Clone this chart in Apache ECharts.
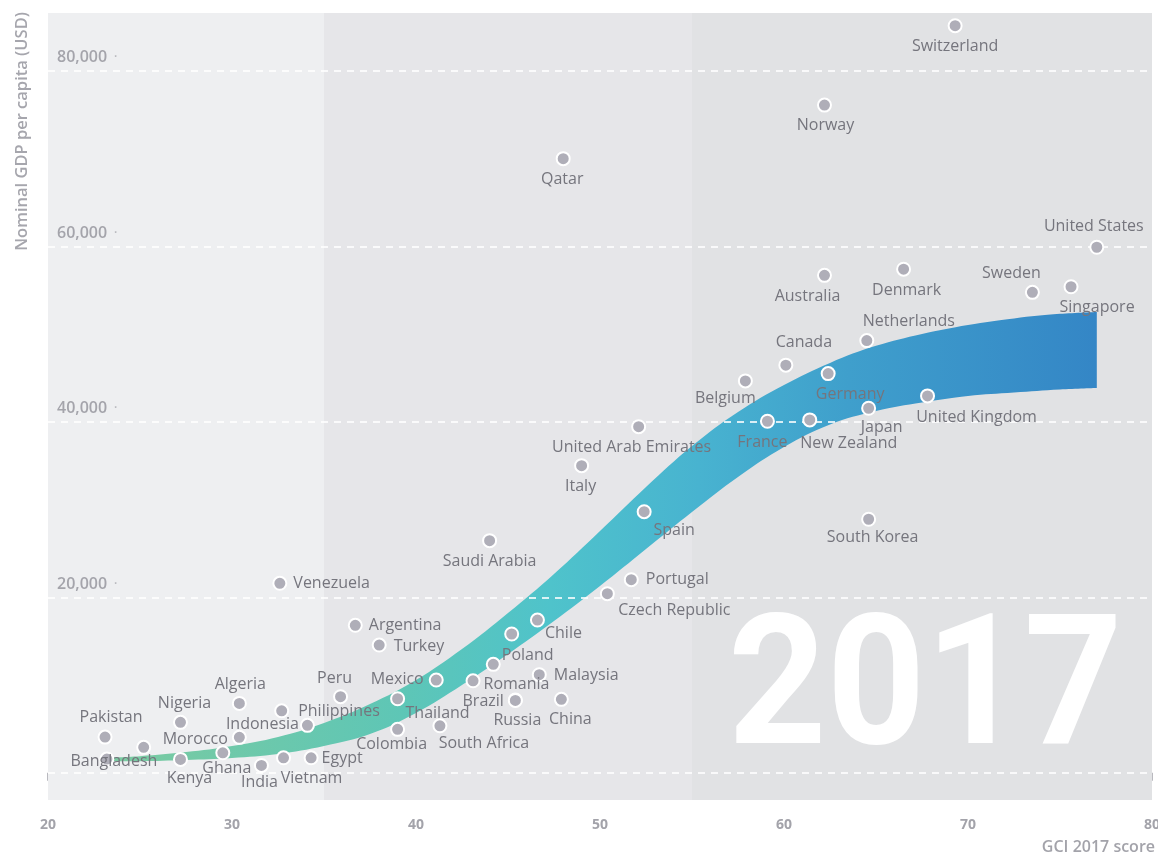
<!DOCTYPE html>
<html>
<head>
<meta charset="utf-8">
<title>GCI 2017 score vs nominal GDP per capita</title>
<script src="https://cdn.jsdelivr.net/npm/echarts@6/dist/echarts.min.js"></script>
<style>
    html, body { margin: 0; padding: 0; background: #fff; }
    #chart { width: 1158px; height: 857px; }
</style>
</head>
<body>
<div id="chart"></div>
<script>
// countries ('' = dot without a label)
const countries = ['Switzerland', 'Norway', 'Qatar', 'United States', 'Australia', 'Denmark', 'Sweden', 'Singapore', 'Netherlands', 'Canada',
    'Germany', 'Belgium', 'United Kingdom', 'Japan', 'France', 'New Zealand', 'United Arab Emirates', 'Italy', 'Spain', 'South Korea',
    'Saudi Arabia', 'Portugal', 'Czech Republic', 'Venezuela', 'Chile', 'Poland', 'Argentina', 'Turkey', '', 'Romania',
    'Mexico', 'Malaysia', 'Brazil', 'Russia', 'China', 'Thailand', 'Colombia', 'South Africa', 'Peru', 'Philippines',
    'Indonesia', 'Algeria', 'Morocco', 'Nigeria', 'Pakistan', '', 'Bangladesh', 'Kenya', 'Ghana', 'India',
    'Vietnam', 'Egypt'];
const gciScores = [69.3, 62.2, 48.0, 77.0, 62.2, 66.5, 73.5, 75.6, 64.5, 60.1,
    62.4, 57.9, 67.8, 64.6, 59.1, 61.4, 52.1, 49.0, 52.4, 64.6,
    44.0, 51.7, 50.4, 32.6, 46.6, 45.2, 36.7, 38.0, 44.2, 43.1,
    41.1, 46.7, 45.4, 45.4, 47.9, 39.0, 39.0, 41.3, 35.9, 32.7,
    34.1, 30.4, 30.4, 27.2, 23.1, 25.2, 23.2, 27.2, 29.5, 31.6,
    32.8, 34.3];
const gdpPerCapita = [85150, 76100, 70000, 59900, 56700, 57400, 54760, 55400, 49260, 46460,
    45500, 44670, 42960, 41550, 40070, 40220, 39450, 35010, 29760, 28900,
    26460, 22010, 20410, 21600, 17410, 15820, 16810, 14560, 12360, 10490,
    10570, 11180, 8300, 8250, 8370, 8440, 4950, 5360, 8670, 7070,
    5410, 7910, 4040, 5750, 4070, 2900, 1560, 1530, 2280, 840,
    1710, 1710];

// trend ribbon, read as its upper and lower edge
const bandScores = [23, 25, 27.5, 30, 32.5, 35, 37.5, 40, 42.5, 45, 47.5, 50, 52.5, 55, 57.5, 60, 62.5, 65, 67.5, 70, 72.5, 75, 77];
const bandUpper = [1730, 1900, 2360, 3050, 4070, 5670, 7830, 10570, 14100, 18210, 22660, 27560, 32580, 37250, 41130, 44210, 46720, 48660, 50020, 51050, 51790, 52310, 52530];
const bandLower = [1330, 1330, 1450, 1680, 2130, 3050, 4410, 6810, 10000, 13540, 17300, 21290, 25510, 29730, 33720, 37140, 39710, 41250, 42210, 42960, 43350, 43700, 43870];

// gridlines and background zones
const gridValues = [0, 20000, 40000, 60000, 80000];
const zoneEdges = [20, 35, 55, 80];
const zoneColors = ['#eeeff1', '#e6e6e9', '#e1e2e4'];

// label placement: [position, dx, dy]
const labelSpots = {
    'Switzerland': ['bottom', 0, 0], 'Norway': ['bottom', 1, 0], 'Qatar': ['bottom', -1, 0],
    'United States': ['top', -3, 0], 'Australia': ['bottom', -17, 1], 'Denmark': ['bottom', 3, 1],
    'Sweden': ['top', -21, 2], 'Singapore': ['bottom', 26, 0], 'Netherlands': ['top', 42, 1],
    'Canada': ['top', 18, -2], 'Germany': ['bottom', 22, 0], 'Belgium': ['bottom', -20, -3],
    'United Kingdom': ['bottom', 49, 1], 'Japan': ['bottom', 13, -1], 'France': ['bottom', -5, 1],
    'New Zealand': ['bottom', 39, 3], 'United Arab Emirates': ['bottom', -7, 0], 'Italy': ['bottom', -1, 0],
    'Spain': ['bottom', 30, -2], 'South Korea': ['bottom', 4, -2], 'Saudi Arabia': ['bottom', 0, 0],
    'Portugal': ['right', 2, 0], 'Czech Republic': ['bottom', 67, -4], 'Venezuela': ['right', 1, 0],
    'Chile': ['bottom', 26, -7], 'Poland': ['bottom', 16, 1], 'Argentina': ['right', 1, 0],
    'Turkey': ['right', 2, 1], 'Romania': ['right', -2, 4], 'Mexico': ['left', 0, -1],
    'Malaysia': ['right', 2, 1], 'Brazil': ['left', 1, 1], 'Russia': ['bottom', 2, 0],
    'China': ['bottom', 9, 0], 'Thailand': ['bottom', 40, -6], 'Colombia': ['bottom', -6, -5],
    'South Africa': ['bottom', 44, -3], 'Peru': ['top', -6, 2], 'Philippines': ['right', 4, 1],
    'Indonesia': ['left', 4, -1], 'Algeria': ['top', 1, 2], 'Morocco': ['left', 1, 2],
    'Nigeria': ['top', 4, 2], 'Pakistan': ['top', 6, 1], 'Bangladesh': ['inside', 7, 2],
    'Kenya': ['bottom', 9, -1], 'Ghana': ['bottom', 4, -5], 'India': ['bottom', -2, -3],
    'Vietnam': ['bottom', 28, 0], 'Egypt': ['right', -2, 1]
};

const FONT = 'Open Sans';

let chart = echarts.init(document.getElementById('chart'), null, { renderer: 'canvas' });

let points = countries.map((name, i) => {
    let item = { name: name, value: [gciScores[i], gdpPerCapita[i]] };
    let spot = labelSpots[name];
    if (spot) {
        item.label = { position: spot[0], offset: [spot[1], spot[2]] };
    } else {
        item.label = { show: false };
    }
    return item;
});

let zones = [];
for (let i = 0; i < zoneColors.length; i++) {
    zones.push([
        { xAxis: zoneEdges[i], itemStyle: { color: zoneColors[i] } },
        { xAxis: zoneEdges[i + 1] }
    ]);
}

// ribbon rows are [gdp, score] so that the gdp dimension is the one stacked
let lowerRows = bandScores.map((x, i) => [bandLower[i], x]);
let widthRows = bandScores.map((x, i) => [bandUpper[i] - bandLower[i], x]);

chart.setOption({
    animation: false,
    backgroundColor: '#fff',
    grid: { left: 48, right: 6, top: 13, bottom: 57, outerBoundsMode: 'none', containLabel: false },
    xAxis: {
        type: 'value',
        min: 20,
        max: 80,
        interval: 10,
        axisLine: { show: false },
        axisTick: { show: true, length: 8, lineStyle: { color: '#a3a3aa', width: 1.5 } },
        splitLine: { show: false },
        axisLabel: { margin: 18, fontFamily: FONT, fontSize: 14, fontWeight: 'bold', color: '#a3a3aa' }
    },
    yAxis: {
        type: 'value',
        min: -3100,
        max: 86600,
        z: 3,
        axisLine: { show: false },
        axisTick: { show: false },
        splitLine: { show: false },
        axisLabel: {
            inside: true,
            margin: 9,
            align: 'left',
            verticalAlign: 'bottom',
            padding: [0, 0, 5, 0],
            fontFamily: FONT,
            fontSize: 16,
            fontWeight: 600,
            color: '#a4a4ab',
            formatter: function (v) {
                if (gridValues.indexOf(v) < 1) return '';
                return '{n|' + v.toLocaleString('en-US') + '}{d|·}';
            },
            rich: {
                n: { fontFamily: FONT, fontSize: 16, fontWeight: 600, color: '#a4a4ab' },
                d: { fontFamily: FONT, fontSize: 12, color: '#b8b8be', padding: [0, 0, 0, 7] }
            }
        }
    },
    graphic: [
        {
            type: 'text', x: 728, y: 698, scaleX: 0.95, z: 1.5, silent: true,
            style: { text: '2017', fontFamily: 'Roboto', fontSize: 181, fontWeight: 'bold', fill: '#fff', align: 'left', verticalAlign: 'middle' }
        },
        {
            type: 'text', x: 22, y: 12, rotation: Math.PI / 2, silent: true,
            style: { text: 'Nominal GDP per capita (USD)', fontFamily: FONT, fontSize: 16.5, fontWeight: 600, fill: '#a6a6ad', align: 'right', verticalAlign: 'middle' }
        },
        {
            type: 'text', x: 1155, y: 847, silent: true,
            style: { text: 'GCI 2017 score', fontFamily: FONT, fontSize: 16, fontWeight: 600, fill: '#a3a3aa', align: 'right', verticalAlign: 'middle' }
        }
    ],
    series: [
        {
            // lower edge of the ribbon (invisible base of the stack)
            type: 'line',
            name: 'band-lower',
            stack: 'band',
            dimensions: ['gdp', 'score'],
            encode: { x: 1, y: 0 },
            data: lowerRows,
            smooth: 0.4,
            symbol: 'none',
            silent: true,
            lineStyle: { width: 0 },
            z: 2,
            markArea: { silent: true, z: 1, data: zones },
            markLine: {
                silent: true,
                z: 3,
                symbol: ['none', 'none'],
                label: { show: false },
                lineStyle: { color: 'rgba(255,255,255,0.8)', type: [7, 6], width: 2 },
                data: gridValues.map(v => ({ yAxis: v }))
            }
        },
        {
            type: 'line',
            name: 'band',
            stack: 'band',
            dimensions: ['gdp', 'score'],
            encode: { x: 1, y: 0 },
            data: widthRows,
            smooth: 0.4,
            symbol: 'none',
            silent: true,
            lineStyle: { width: 0 },
            areaStyle: {
                opacity: 1,
                color: new echarts.graphic.LinearGradient(0, 0, 1, 0, [
                    { offset: 0, color: '#7ccba0' },
                    { offset: 0.3, color: '#5ec6b6' },
                    { offset: 0.45, color: '#4fc3cb' },
                    { offset: 0.6, color: '#48b3d0' },
                    { offset: 0.75, color: '#3f9fcc' },
                    { offset: 1, color: '#3486c6' }
                ])
            },
            z: 2
        },
        {
            type: 'scatter',
            name: 'countries',
            data: points,
            symbolSize: 13,
            z: 4,
            itemStyle: { color: '#afaeb8', borderColor: '#fff', borderWidth: 2, opacity: 1 },
            label: {
                show: true,
                formatter: '{b}',
                distance: 5,
                fontFamily: FONT,
                fontSize: 16,
                color: '#75757d'
            },
            emphasis: { disabled: true }
        }
    ]
});
</script>
</body>
</html>
